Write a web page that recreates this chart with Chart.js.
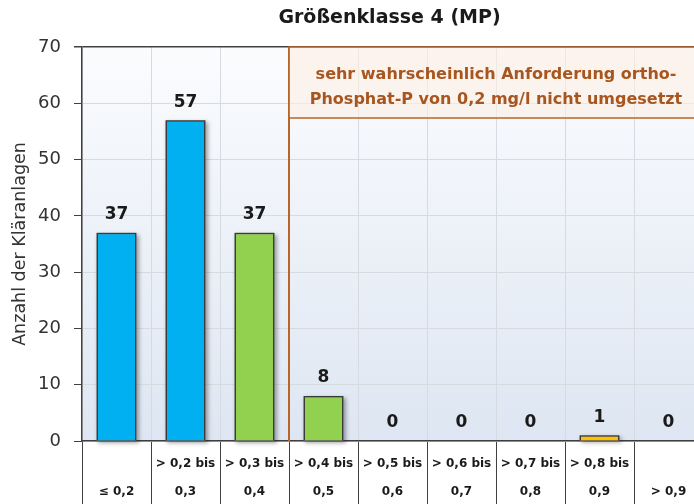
<!DOCTYPE html>
<html>
<head>
<meta charset="utf-8">
<script src="https://cdn.jsdelivr.net/npm/chart.js@4"></script>
<style>
  body { margin: 0; background: #fff; overflow: hidden; }
  #wrap { width: 694px; height: 504px; overflow: hidden; }
</style>
</head>
<body>
<div id="wrap"><canvas id="grafico" width="710" height="504"></canvas></div>
<script>
const kategorien = [
  ["", "≤ 0,2"],
  ["> 0,2 bis", "0,3"],
  ["> 0,3 bis", "0,4"],
  ["> 0,4 bis", "0,5"],
  ["> 0,5 bis", "0,6"],
  ["> 0,6 bis", "0,7"],
  ["> 0,7 bis", "0,8"],
  ["> 0,8 bis", "0,9"],
  ["", "> 0,9"]
];
const anzahl = [37, 57, 37, 8, 0, 0, 0, 1, 0];
const farben = ["#00b0f0", "#00b0f0", "#92d050", "#92d050", "#92d050", "#92d050", "#ffc000", "#ffc000", "#ffc000"];
const titel = "Größenklasse 4 (MP)";
const hinweis = ["sehr wahrscheinlich Anforderung ortho-", "Phosphat-P von 0,2 mg/l nicht umgesetzt"];
const grenzeIndex = 2; // Linie nach der dritten Klasse

const schrift = "'DejaVu Sans', sans-serif";

const hintergrund = {
  id: "hintergrund",
  beforeDraw(chart) {
    const { ctx, chartArea: a } = chart;
    const g = ctx.createLinearGradient(0, a.top, 0, a.bottom);
    g.addColorStop(0, "#fbfcfe");
    g.addColorStop(1, "#dde6f2");
    ctx.save();
    ctx.fillStyle = g;
    ctx.fillRect(a.left, a.top, a.right - a.left, a.bottom - a.top);
    ctx.restore();
  }
};

// weicher Schatten unter den Balken
const schatten = {
  id: "schatten",
  beforeDatasetsDraw(chart) {
    const ctx = chart.ctx;
    ctx.save();
    ctx.shadowColor = "rgba(0,0,0,0.35)";
    ctx.shadowBlur = 4;
    ctx.shadowOffsetX = 2;
    ctx.shadowOffsetY = 2;
    ctx.fillStyle = "#888";
    chart.getDatasetMeta(0).data.forEach(bar => {
      const h = bar.base - bar.y;
      if (h > 0) ctx.fillRect(bar.x - bar.width / 2, bar.y, bar.width, h);
    });
    ctx.restore();
  }
};

const extras = {
  id: "extras",
  afterDraw(chart) {
    const { ctx, chartArea: a } = chart;
    const x = chart.scales.x, y = chart.scales.y;
    ctx.save();
    ctx.textAlign = "center";
    ctx.textBaseline = "middle";
    // Titel
    ctx.fillStyle = "#1a1a1a";
    ctx.font = "bold 19px " + schrift;
    ctx.fillText(titel, (a.left + a.right) / 2 - 3, 18);
    // Werte über den Balken
    ctx.font = "bold 17px " + schrift;
    chart.getDatasetMeta(0).data.forEach((bar, i) => {
      ctx.fillText(String(anzahl[i]), bar.x, y.getPixelForValue(anzahl[i]) - 18);
    });
    // Grenzlinie und Hinweisbox
    const gx = (x.getPixelForValue(grenzeIndex) + x.getPixelForValue(grenzeIndex + 1)) / 2;
    ctx.strokeStyle = "#b8652a";
    ctx.lineWidth = 2;
    ctx.beginPath();
    ctx.moveTo(gx, a.top);
    ctx.lineTo(gx, a.bottom);
    ctx.stroke();
    const boxH = 71;
    ctx.fillStyle = "rgba(253,238,226,0.6)";
    ctx.fillRect(gx, a.top, a.right + 10 - gx, boxH);
    ctx.lineWidth = 1.5;
    ctx.strokeRect(gx, a.top, a.right + 10 - gx, boxH);
    ctx.fillStyle = "#a8561f";
    ctx.font = "bold 16px " + schrift;
    const mx = (gx + a.right) / 2;
    ctx.fillText(hinweis[0], mx, a.top + 28);
    ctx.fillText(hinweis[1], mx, a.top + 53);
    ctx.restore();
  }
};

const ctx = document.getElementById("grafico").getContext("2d");
new Chart(ctx, {
  type: "bar",
  data: {
    labels: kategorien,
    datasets: [{
      data: anzahl,
      backgroundColor: farben,
      borderColor: "#3a3a3a",
      borderWidth: 1.5,
      barPercentage: 0.58,
      categoryPercentage: 1
    }]
  },
  options: {
    responsive: false,
    animation: false,
    devicePixelRatio: 1,
    layout: { padding: { left: 0, right: 7, top: 47, bottom: 0 } },
    plugins: {
      legend: { display: false },
      tooltip: { enabled: false },
      title: { display: false }
    },
    scales: {
      x: {
        grid: {
          offset: true,
          color: "#d6dbe2",
          tickColor: "#404040",
          tickLength: 63,
          tickWidth: 1
        },
        border: { color: "#404040", width: 1.5 },
        ticks: {
          color: "#1a1a1a",
          padding: -54,
          maxRotation: 0,
          autoSkip: false,
          font: { family: schrift, size: 12, weight: "bold", lineHeight: "28px" }
        },
        afterFit(scale) { scale.height = 63; }
      },
      y: {
        min: 0,
        max: 70,
        ticks: {
          stepSize: 10,
          color: "#333",
          padding: 13,
          font: { family: schrift, size: 18 }
        },
        grid: {
          color: c => c.tick && c.tick.value === 70 ? "#404040" : "#d6dbe2",
          lineWidth: c => c.tick && c.tick.value === 70 ? 1.5 : 1,
          tickColor: "#404040",
          tickLength: 8
        },
        border: { color: "#404040", width: 1.5 },
        title: {
          display: true,
          text: "Anzahl der Kläranlagen",
          color: "#333",
          font: { family: schrift, size: 17.5 },
          padding: { top: 10, bottom: 0 }
        },
        afterFit(scale) { scale.width = 82; }
      }
    }
  },
  plugins: [hintergrund, schatten, extras]
});
</script>
</body>
</html>
